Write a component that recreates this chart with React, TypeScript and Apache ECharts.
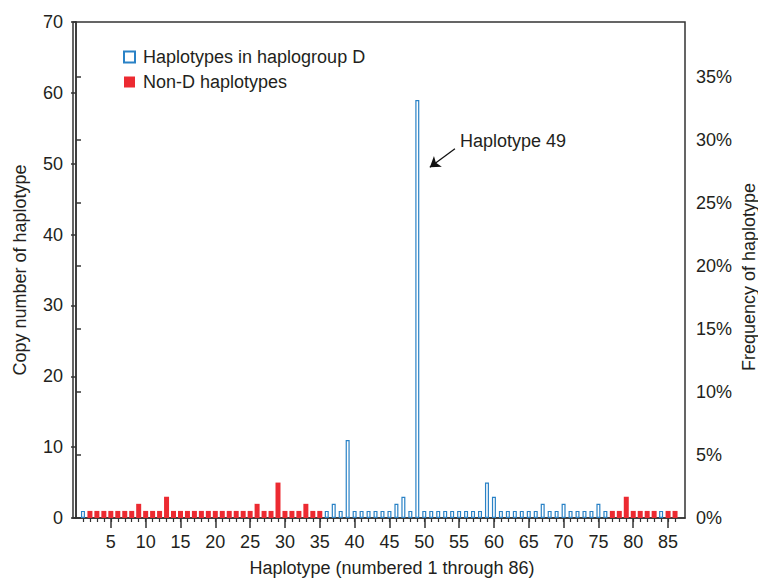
import React, { useEffect, useRef } from 'react';
import * as echarts from 'echarts';

// Copy number for haplotypes 1..86
const copyNumbers = [
  1, 1, 1, 1, 1, 1, 1, 1, 2, 1,
  1, 1, 3, 1, 1, 1, 1, 1, 1, 1,
  1, 1, 1, 1, 1, 2, 1, 1, 5, 1,
  1, 1, 2, 1, 1, 1, 2, 1, 11, 1,
  1, 1, 1, 1, 1, 2, 3, 1, 59, 1,
  1, 1, 1, 1, 1, 1, 1, 1, 5, 3,
  1, 1, 1, 1, 1, 1, 2, 1, 1, 2,
  1, 1, 1, 1, 2, 1, 1, 1, 3, 1,
  1, 1, 1, 1, 1, 1,
];

// Haplotypes belonging to haplogroup D
const dHaplotypes = [
  1, 36, 37, 38, 39, 40, 41, 42, 43, 44, 45, 46, 47, 48, 49, 50, 51, 52, 53, 54,
  55, 56, 57, 58, 59, 60, 61, 62, 63, 64, 65, 66, 67, 68, 69, 70, 71, 72, 73, 74,
  75, 76, 84,
];

const xMajorTicks = [5, 10, 15, 20, 25, 30, 35, 40, 45, 50, 55, 60, 65, 70, 75, 80, 85];
const pctTicks = [0, 5, 10, 15, 20, 25, 30, 35];

const BLUE = '#2a82c6';
const RED = '#ec2a31';
const AXIS = '#333333';
const TEXT = '#231f20';
const FONT = '"Liberation Sans", Arial, Helvetica, sans-serif';

export default function App() {
  const ref = useRef<HTMLDivElement>(null);
  useEffect(() => {
    document.body.style.margin = '0';
    const chart = echarts.init(ref.current!, null, { renderer: 'svg' });
    const total = copyNumbers.reduce((a, b) => a + b, 0);
    const haplotypes = copyNumbers.map((_, i) => i + 1);
    const dData: number[][] = [];
    const nData: number[][] = [];
    copyNumbers.forEach((v, i) => {
      const h = i + 1;
      if (dHaplotypes.includes(h)) dData.push([h, v]);
      else nData.push([h, v]);
    });
    const xMin = -0.43;
    const xMax = 87.43;

    chart.setOption({
      animation: false,
      textStyle: { fontFamily: FONT, color: TEXT },
      grid: {
        left: 73, right: 73, top: 22, bottom: 61,
        show: true, borderColor: AXIS, borderWidth: 1.5,
        outerBoundsMode: 'none',
      },
      legend: {
        orient: 'vertical',
        left: 118, top: 43,
        itemWidth: 11, itemHeight: 11, itemGap: 7,
        icon: 'rect',
        textStyle: { fontSize: 18, color: TEXT, fontFamily: FONT, padding: [0, 0, 0, 3] },
        data: ['Haplotypes in haplogroup D', 'Non-D haplotypes'],
      },
      xAxis: [
        {
          type: 'value', min: xMin, max: xMax, position: 'bottom',
          axisLine: { show: true, lineStyle: { color: AXIS, width: 1.5 } },
          axisTick: { show: true, length: 10, customValues: xMajorTicks, lineStyle: { color: AXIS, width: 1.5 } },
          axisLabel: { customValues: xMajorTicks, fontSize: 18, color: TEXT, margin: 15, fontFamily: FONT },
          splitLine: { show: false },
          name: 'Haplotype (numbered 1 through 86)',
          nameLocation: 'middle', nameGap: 41,
          nameTextStyle: { fontSize: 18, color: TEXT, fontFamily: FONT, padding: [0, 0, 0, 26] },
        },
        {
          type: 'value', min: xMin, max: xMax, position: 'bottom',
          axisLine: { show: false },
          axisTick: { show: true, length: 4, customValues: haplotypes, lineStyle: { color: AXIS, width: 1.2 } },
          axisLabel: { show: false },
          splitLine: { show: false },
        },
      ],
      yAxis: [
        {
          type: 'value', min: 0, max: 70, interval: 10, position: 'left',
          axisLine: { show: true, lineStyle: { color: AXIS, width: 1.5 } },
          axisTick: { show: true, length: 5, lineStyle: { color: AXIS, width: 1.5 } },
          axisLabel: { fontSize: 18, color: TEXT, margin: 10, fontFamily: FONT },
          splitLine: { show: false },
          name: 'Copy number of haplotype',
          nameLocation: 'middle', nameGap: 44,
          nameTextStyle: { fontSize: 18, color: TEXT, fontFamily: FONT },
        },
        {
          type: 'value', min: 0, max: (70 / total) * 100, position: 'right',
          axisLine: { show: true, lineStyle: { color: AXIS, width: 1.5 } },
          axisTick: { show: true, length: 5, customValues: pctTicks, lineStyle: { color: AXIS, width: 1.5 } },
          axisLabel: { customValues: pctTicks, formatter: '{value}%', fontSize: 18, color: TEXT, margin: 11, fontFamily: FONT },
          splitLine: { show: false },
        },
      ],
      series: [
        {
          name: 'Haplotypes in haplogroup D',
          type: 'bar',
          xAxisIndex: 1, yAxisIndex: 0,
          barWidth: 4,
          data: dData,
          itemStyle: { color: '#ffffff', borderColor: BLUE, borderWidth: 1.2 },
          markLine: {
            silent: true,
            symbol: ['none', 'arrow'],
            symbolSize: 10,
            lineStyle: { color: '#111', width: 1.3, type: 'solid' },
            label: { show: false },
            data: [[{ coord: [54.4, 52.1] }, { coord: [50.8, 49.5] }]],
          },
        },
        {
          name: 'Non-D haplotypes',
          type: 'bar',
          xAxisIndex: 0, yAxisIndex: 0,
          barWidth: 5,
          data: nData,
          itemStyle: { color: RED },
        },
      ],
      graphic: [
        {
          type: 'text', left: 460, top: 132,
          style: { text: 'Haplotype 49', fontSize: 18, fill: TEXT, fontFamily: FONT },
        },
        {
          type: 'text', x: 749, y: 277, rotation: Math.PI / 2,
          style: {
            text: 'Frequency of haplotype', fontSize: 18, fill: TEXT, fontFamily: FONT,
            align: 'center', verticalAlign: 'middle',
          },
        },
      ],
    });
    return () => chart.dispose();
  }, []);
  return <div ref={ref} style={{ width: 758, height: 579 }} />;
}
